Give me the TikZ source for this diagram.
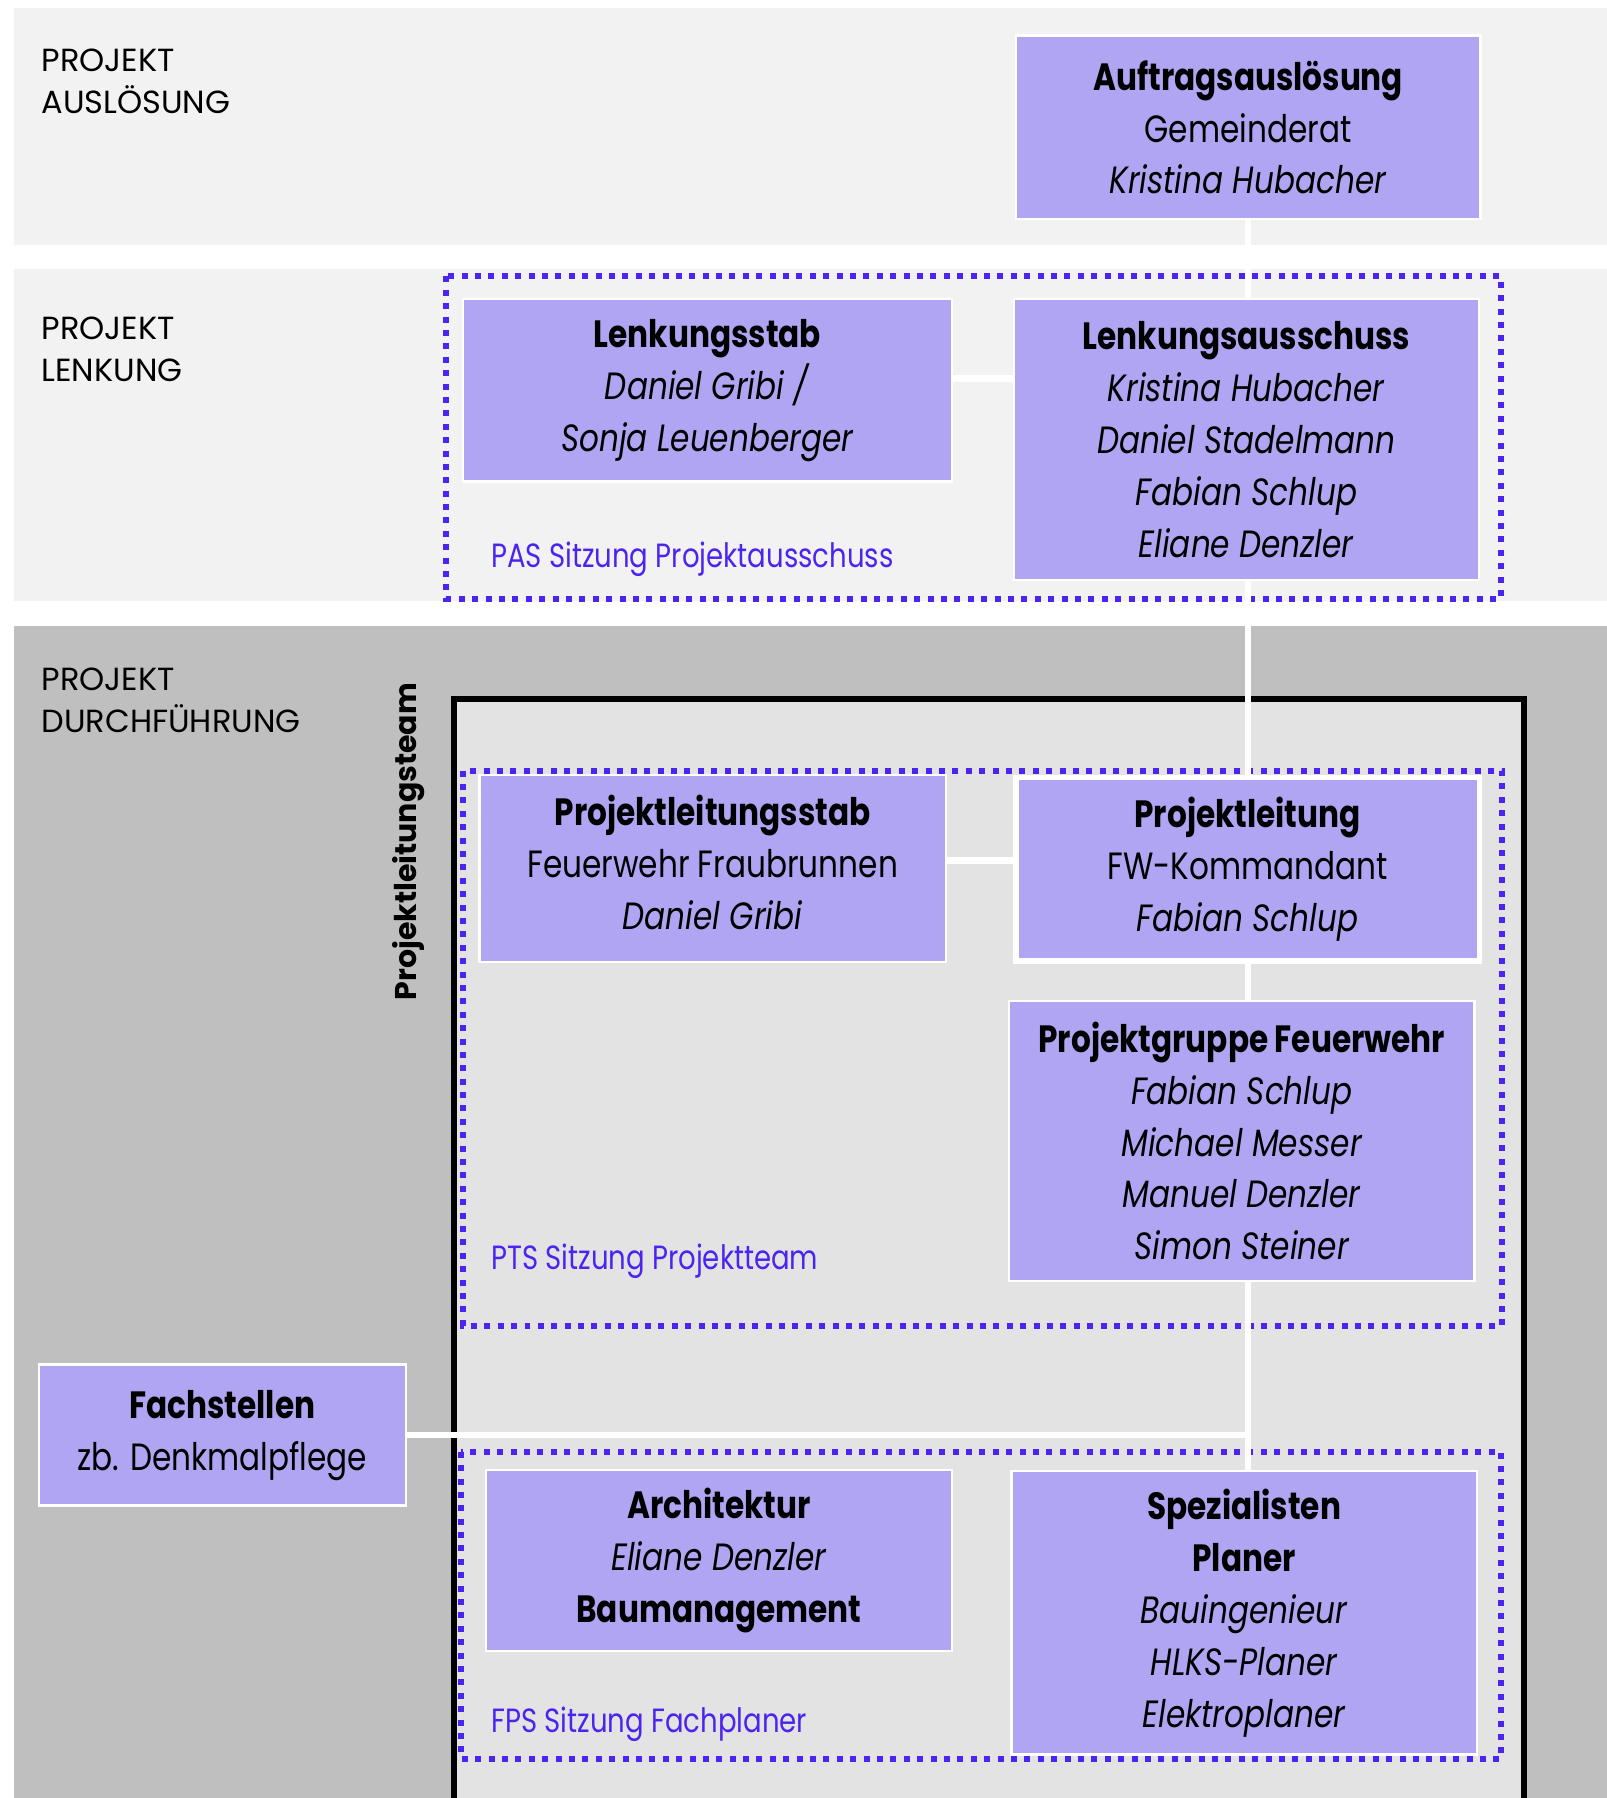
\documentclass[tikz,border=0pt]{standalone}
\usepackage{fontspec}
\setmainfont{Poppins}[FakeStretch=0.82]
\newfontfamily\teamfont{Poppins}
\usetikzlibrary{calc}
\definecolor{bandlight}{RGB}{242,242,242}
\definecolor{banddark}{RGB}{191,191,191}
\definecolor{teamgray}{RGB}{227,227,227}
\definecolor{boxfill}{RGB}{175,165,242}
\definecolor{sitzblue}{RGB}{76,36,240}
\pgfdeclarelayer{background}
\pgfsetlayers{background,main}
\tikzset{
  orgbox/.style={draw=white, line width=1.2pt, fill=boxfill, align=center,
    inner sep=0pt, minimum width=232.8pt, font=\fontsize{19}{26}\selectfont},
  link/.style={draw=white, line width=3.2pt},
  sitzung/.style={draw=sitzblue, line width=3pt, dash pattern=on 3pt off 3.7pt},
  sitzlabel/.style={anchor=west, inner sep=0pt, text=sitzblue,
    font=\fontsize{16.8}{20}\selectfont},
  phase/.style={anchor=north west, align=left, inner sep=0pt,
    font=\teamfont\fontsize{16}{21.2}\selectfont}
}
\begin{document}
\begin{tikzpicture}[x=0.5735pt, y=-0.5735pt]
\useasboundingbox (0,0) rectangle (1401,1568);
% phase labels
\node[phase] (ausl) at (36,42) {PROJEKT\\AUSLÖSUNG};
\node[phase] (lenk) at (36,276) {PROJEKT\\LENKUNG};
\node[phase] (durch) at (36,582) {PROJEKT\\DURCHFÜHRUNG};
\node[rotate=90, inner sep=0pt, font=\teamfont\bfseries\fontsize{15}{18}\selectfont]
  (teamlabel) at (356,734) {Projektleitungsteam};
% boxes
\node[orgbox, minimum width=232.3pt, minimum height=91.8pt] (auftrag) at (1088.5,111)
  {\textbf{Auftragsauslösung}\\Gemeinderat\\\textit{Kristina Hubacher}};
\node[orgbox, minimum width=244.3pt, minimum height=91.2pt] (lstab) at (617,340.5)
  {\textbf{Lenkungsstab}\\\textit{Daniel Gribi /}\\\textit{Sonja Leuenberger}};
\node[orgbox, minimum height=140.5pt] (lauss) at (1087,383.5)
  {\textbf{Lenkungsausschuss}\\\textit{Kristina Hubacher}\\\textit{Daniel Stadelmann}\\
   \textit{Fabian Schlup}\\\textit{Eliane Denzler}};
\node[orgbox, minimum width=233.4pt, minimum height=93.5pt, text depth=6pt] (plstab) at (621.5,757.5)
  {\textbf{Projektleitungsstab}\\Feuerwehr Fraubrunnen\\\textit{Daniel Gribi}};
\node[orgbox, line width=2.6pt, minimum width=231.7pt, minimum height=91.8pt] (pl) at (1088,758)
  {\textbf{Projektleitung}\\FW-Kommandant\\\textit{Fabian Schlup}};
\node[orgbox, minimum height=139.9pt] (pgf) at (1083,995)
  {\textbf{Projektgruppe Feuerwehr}\\\textit{Fabian Schlup}\\\textit{Michael Messer}\\
   \textit{Manuel Denzler}\\\textit{Simon Steiner}};
\node[orgbox, minimum width=183.5pt, minimum height=70.5pt] (fach) at (194,1251.5)
  {\textbf{Fachstellen}\\zb. Denkmalpflege};
\node[orgbox, minimum height=90.6pt] (arch) at (627,1361)
  {\textbf{Architektur}\\\textit{Eliane Denzler}\\\textbf{Baumanagement}};
\node[orgbox, minimum height=141.7pt] (spez) at (1085,1406.5)
  {\textbf{Spezialisten}\\\textbf{Planer}\\\textit{Bauingenieur}\\\textit{HLKS-Planer}\\
   \textit{Elektroplaner}};
% meetings
\node[sitzlabel] (pas) at (428,488) {PAS Sitzung Projektausschuss};
\node[sitzlabel] (pts) at (428,1100) {PTS Sitzung Projektteam};
\node[sitzlabel] (fps) at (428,1504) {FPS Sitzung Fachplaner};
\coordinate (junction) at ($(auftrag.south)!(fach.east)!(auftrag.south |- spez.north)$);
\begin{pgfonlayer}{background}
  \fill[bandlight] (12,7) rectangle (1401,214);
  \fill[bandlight] (12,235) rectangle (1401,524);
  \fill[banddark] (12,546) rectangle (1401,1568);
  \draw[line width=3pt, fill=teamgray] (396,1575) -- (396,610) -- (1329,610) -- (1329,1575);
  \draw[sitzung] (389,241) rectangle (1309,522);
  \draw[sitzung] (404,672) rectangle (1310,1156);
  \draw[sitzung] (402,1266) rectangle (1309,1534);
  \draw[link] (auftrag.south) -- (auftrag.south |- spez.north);
  \draw[link] ([yshift=6pt]lstab.east) -- ([yshift=6pt]lstab.east -| lauss.west);
  \draw[link] ([yshift=4pt]plstab.east) -- ([yshift=4pt]plstab.east -| pl.west);
  \draw[link] (fach.east) -- (junction);
\end{pgfonlayer}
\end{tikzpicture}
\end{document}
